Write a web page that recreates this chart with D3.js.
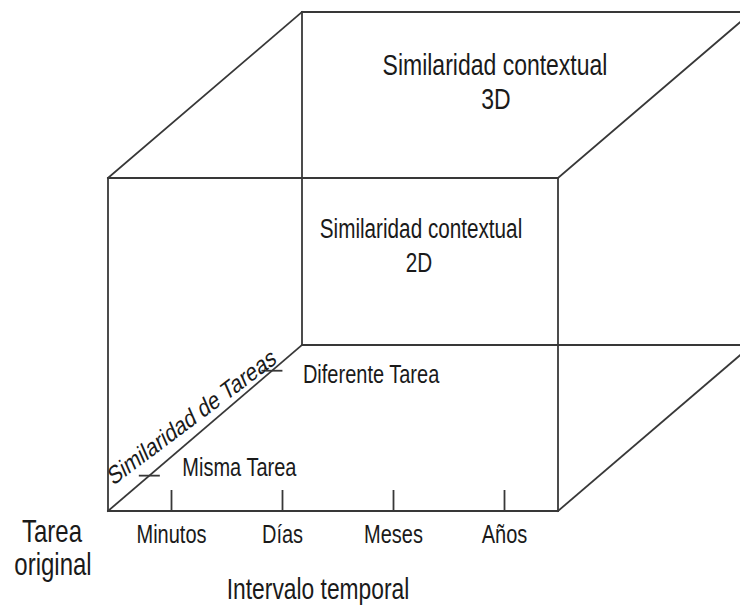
<!DOCTYPE html>
<html>
<head>
<meta charset="utf-8">
<script src="https://cdn.jsdelivr.net/npm/d3@7"></script>
<style>
  body { margin: 0; background: #fff; }
  text { font-family: "Liberation Sans", Arial, sans-serif; fill: #1a1a1a; }
</style>
</head>
<body>
<div id="chart"></div>
<script>
/*
 *  DATA
 */
var timeCategories = ["Minutos", "Días", "Meses", "Años"];
var taskCategories = ["Misma Tarea", "Diferente Tarea"];
var planeTitle2D = ["Similaridad contextual", "2D"];
var planeTitle3D = ["Similaridad contextual", "3D"];
var originTitle = ["Tarea", "original"];
var timeTitle = "Intervalo temporal";
var taskTitle = "Similaridad de Tareas";

/*
 *  LAYOUT
 */
var width = 740, height = 607;
var SY = 1.3;              // the picture is stretched vertically
var lineColor = "#383838";

var svg = d3.select("#chart")
    .append("svg")
        .attr("width", width)
        .attr("height", height);

// cube in unit coordinates, projected with an oblique depth offset
var x_scale = d3.scaleLinear().domain([0, 1]).range([108, 558]);
var y_scale = d3.scaleLinear().domain([0, 1]).range([511, 178]);
var depth = {dx: 194, dy: -166};

function project(x, y, z) {
    return [x_scale(x) + z * depth.dx, y_scale(y) + z * depth.dy];
}

var corners = [];
[0, 1].forEach(function(z) {
    [0, 1].forEach(function(y) {
        [0, 1].forEach(function(x) { corners.push([x, y, z]); });
    });
});
var edges = [];
corners.forEach(function(a, i) {
    corners.forEach(function(b, j) {
        var diff = Math.abs(a[0]-b[0]) + Math.abs(a[1]-b[1]) + Math.abs(a[2]-b[2]);
        if (j > i && diff == 1) edges.push([a, b]);
    });
});

svg.selectAll(".edge")
    .data(edges)
    .enter()
    .append("line")
    .attr("class", "edge")
    .attr("x1", function(d) { return project.apply(null, d[0])[0]; })
    .attr("y1", function(d) { return project.apply(null, d[0])[1]; })
    .attr("x2", function(d) { return project.apply(null, d[1])[0]; })
    .attr("y2", function(d) { return project.apply(null, d[1])[1]; })
    .attr("stroke", lineColor)
    .attr("stroke-width", 1.8)
    .attr("stroke-linecap", "square");

function label(txt, x, y, size, anchor) {
    return svg.append("text")
        .attr("transform", "translate(" + x + "," + y + ") scale(1," + SY + ")")
        .attr("text-anchor", anchor || "middle")
        .attr("font-size", size)
        .text(txt);
}

/*
 *  TIME AXIS (front bottom edge)
 */
var time_scale = d3.scalePoint()
    .domain(timeCategories)
    .range([171, 504]);

var timeAxis = svg.append("g")
    .attr("class", "axis axis--x")
    .attr("transform", "translate(0," + y_scale(0) + ")")
    .style("color", lineColor)
    .call(d3.axisBottom(time_scale).tickSizeInner(-21).tickSizeOuter(0));
timeAxis.select(".domain").remove();
timeAxis.selectAll("line").attr("stroke-width", 1.8);
timeAxis.selectAll("text")
    .attr("y", null)
    .attr("dy", null)
    .attr("font-size", 20)
    .attr("font-family", "Liberation Sans, Arial, sans-serif")
    .style("fill", "#1a1a1a")
    .attr("transform", "translate(0,32) scale(1," + SY + ")");

/*
 *  TASK AXIS (bottom-left depth edge)
 */
var task_scale = d3.scalePoint()
    .domain(taskCategories)
    .range([0.213, 0.845]);
var taskLabelShift = [[33, 0], [31, 12.5]];

svg.selectAll(".tasktick")
    .data(taskCategories)
    .enter()
    .append("line")
    .attr("class", "tasktick")
    .attr("x1", function(d) { return project(0, 0, task_scale(d))[0] - 10.5; })
    .attr("x2", function(d) { return project(0, 0, task_scale(d))[0] + 10.5; })
    .attr("y1", function(d) { return project(0, 0, task_scale(d))[1]; })
    .attr("y2", function(d) { return project(0, 0, task_scale(d))[1]; })
    .attr("stroke", lineColor)
    .attr("stroke-width", 1.8);

taskCategories.forEach(function(d, i) {
    var p = project(0, 0, task_scale(d));
    label(d, p[0] + taskLabelShift[i][0], p[1] + taskLabelShift[i][1], 20, "start");
});

svg.append("text")
    .attr("transform", "translate(113,486) scale(1," + SY + ") rotate(-30)")
    .attr("font-size", 19.8)
    .text(taskTitle);

/*
 *  TITLES
 */
label(planeTitle3D[0], 495, 75, 23);
label(planeTitle3D[1], 496, 109, 23);
label(planeTitle2D[0], 421, 238, 20.7);
label(planeTitle2D[1], 419, 272, 20.7);

label(originTitle[0], 52, 542, 24);
label(originTitle[1], 53, 575, 24);

label(timeTitle, 318, 599, 22.8);
</script>
</body>
</html>
